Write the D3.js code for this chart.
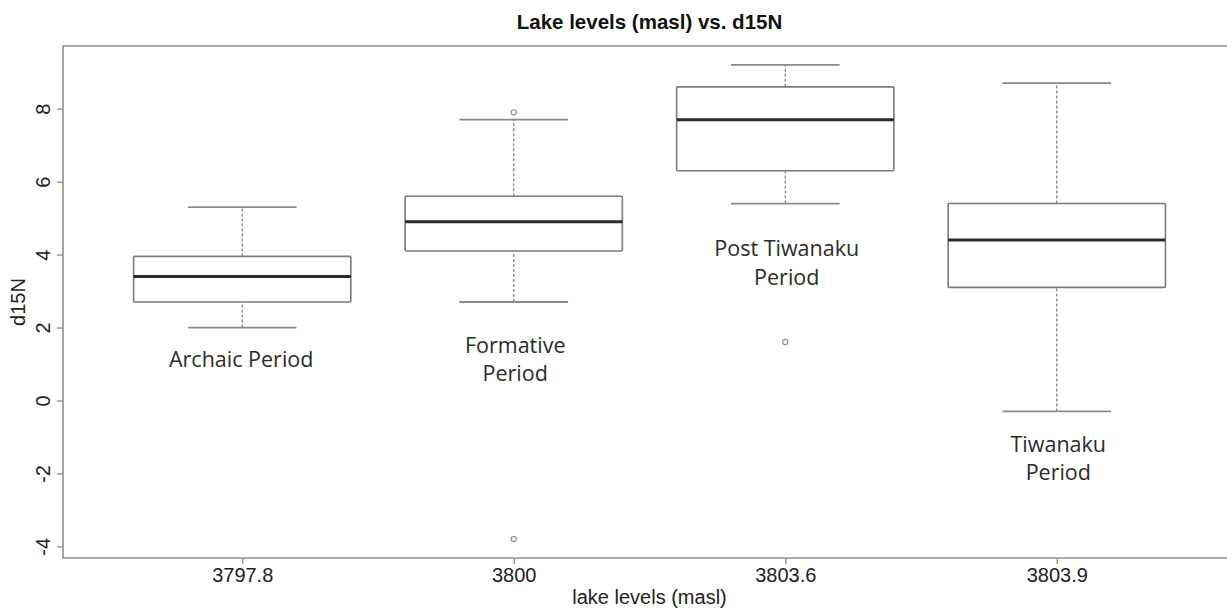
<!DOCTYPE html>
<html>
<head>
<meta charset="utf-8">
<script src="https://cdn.jsdelivr.net/npm/d3@7/dist/d3.min.js"></script>
<style>
  html, body { margin: 0; padding: 0; background: #fff; overflow: hidden; }
  svg { display: block; }
</style>
</head>
<body>
<svg id="chart" width="1227" height="612"></svg>
<script>
// Lake level groups and d15N box-plot summaries
const categories = ["3797.8", "3800", "3803.6", "3803.9"];
const whiskerLow  = [2.0, 2.7, 5.4, -0.3];
const q1          = [2.7, 4.1, 6.3, 3.1];
const median      = [3.4, 4.9, 7.7, 4.4];
const q3          = [3.95, 5.6, 8.6, 5.4];
const whiskerHigh = [5.3, 7.7, 9.2, 8.7];
const outliers    = [[], [7.9, -3.8], [1.6], []];

const yTicks = [-4, -2, 0, 2, 4, 6, 8];

// Period annotations (text lines per group)
const periodLabels = [["Archaic Period"], ["Formative", "Period"], ["Post Tiwanaku", "Period"], ["Tiwanaku", "Period"]];

const svg = d3.select("#chart");
const plot = { left: 63, right: 1236, top: 46, bottom: 558 };

// R-style 4% range extension on both axes
const allVals = whiskerLow.concat(whiskerHigh, outliers.flat());
const yMin = d3.min(allVals), yMax = d3.max(allVals);
const yPad = (yMax - yMin) * 0.04;
const y = d3.scaleLinear().domain([yMin - yPad, yMax + yPad]).range([plot.bottom, plot.top]);
const n = categories.length;
const xPad = n * 0.04;
const x = d3.scaleLinear().domain([0.5 - xPad, n + 0.5 + xPad]).range([plot.left, plot.right]);

const boxHalf = x(1.4) - x(1);
const stapleHalf = x(1.2) - x(1);

const boxes = categories.map((c, i) => ({
  c, pos: i + 1, lo: whiskerLow[i], q1: q1[i], med: median[i], q3: q3[i], hi: whiskerHigh[i], out: outliers[i], lab: periodLabels[i]
}));

const g = svg.append("g");

// Whiskers (dashed)
g.selectAll(".whisker").data(boxes.flatMap(b => [[b.pos, b.lo, b.q1], [b.pos, b.q3, b.hi]]))
  .join("line")
  .attr("x1", d => x(d[0])).attr("x2", d => x(d[0]))
  .attr("y1", d => y(d[1])).attr("y2", d => y(d[2]))
  .attr("stroke", "#6e6e6e").attr("stroke-width", 1.1).attr("stroke-dasharray", "3,2");

// Staples
g.selectAll(".staple").data(boxes.flatMap(b => [[b.pos, b.lo], [b.pos, b.hi]]))
  .join("line")
  .attr("x1", d => x(d[0]) - stapleHalf).attr("x2", d => x(d[0]) + stapleHalf)
  .attr("y1", d => y(d[1])).attr("y2", d => y(d[1]))
  .attr("stroke", "#8a8a8a").attr("stroke-width", 1.8);

// Boxes
g.selectAll(".box").data(boxes)
  .join("rect")
  .attr("x", d => x(d.pos) - boxHalf).attr("width", 2 * boxHalf)
  .attr("y", d => y(d.q3)).attr("height", d => y(d.q1) - y(d.q3))
  .attr("fill", "#fff").attr("stroke", "#7a7a7a").attr("stroke-width", 1.6).attr("rx", 1);

// Medians
g.selectAll(".median").data(boxes)
  .join("line")
  .attr("x1", d => x(d.pos) - boxHalf).attr("x2", d => x(d.pos) + boxHalf)
  .attr("y1", d => y(d.med)).attr("y2", d => y(d.med))
  .attr("stroke", "#2a2a2a").attr("stroke-width", 3);

// Outliers
g.selectAll(".outlier").data(boxes.flatMap(b => b.out.map(v => [b.pos, v])))
  .join("circle")
  .attr("cx", d => x(d[0])).attr("cy", d => y(d[1])).attr("r", 2.6)
  .attr("fill", "none").attr("stroke", "#8a8a8a").attr("stroke-width", 1.1);

// Plot frame (right edge falls outside the canvas)
svg.append("path")
  .attr("d", `M${plot.right},${plot.top}H${plot.left}V${plot.bottom}H${plot.right}`)
  .attr("fill", "none").attr("stroke", "#909090").attr("stroke-width", 1.6);

// X axis
const xAxis = d3.axisBottom(x).tickValues(d3.range(1, n + 1)).tickFormat(d => categories[d - 1]).tickSize(6).tickPadding(4);
const xg = svg.append("g").attr("transform", `translate(0,${plot.bottom})`).call(xAxis);
xg.select(".domain").remove();
xg.selectAll(".tick line").attr("stroke", "#909090").attr("stroke-width", 1.4);
xg.selectAll(".tick text").attr("font-family", "Liberation Sans, Arial, sans-serif").attr("font-size", 20).attr("fill", "#222").attr("dy", "0.71em");

// Y axis, labels parallel to the axis with plain hyphen minus
const yAxis = d3.axisLeft(y).tickValues(yTicks).tickFormat(d => String(d)).tickSize(6);
const yg = svg.append("g").attr("transform", `translate(${plot.left},0)`).call(yAxis);
yg.select(".domain").remove();
yg.selectAll(".tick line").attr("stroke", "#909090").attr("stroke-width", 1.4);
yg.selectAll(".tick text")
  .attr("font-family", "Liberation Sans, Arial, sans-serif").attr("font-size", 20).attr("fill", "#222")
  .attr("x", null).attr("dy", null).attr("y", 0)
  .attr("text-anchor", "middle")
  .attr("transform", `translate(${50 - plot.left},0) rotate(-90)`);

// Title and axis titles
svg.append("text")
  .attr("x", (plot.left + plot.right) / 2).attr("y", 29)
  .attr("text-anchor", "middle")
  .attr("font-family", "Liberation Sans, Arial, sans-serif").attr("font-weight", "bold").attr("font-size", 20.5).attr("fill", "#111")
  .text("Lake levels (masl) vs. d15N");

svg.append("text")
  .attr("x", (plot.left + plot.right) / 2).attr("y", 604)
  .attr("text-anchor", "middle")
  .attr("font-family", "Liberation Sans, Arial, sans-serif").attr("font-size", 20).attr("fill", "#222")
  .text("lake levels (masl)");

svg.append("text")
  .attr("transform", `translate(25,${(plot.top + plot.bottom) / 2}) rotate(-90)`)
  .attr("text-anchor", "middle")
  .attr("font-family", "Liberation Sans, Arial, sans-serif").attr("font-size", 20).attr("fill", "#222")
  .text("d15N");

// Period annotations, anchored in data units under/above each box
const labelAnchor = [0.93, 1.3, 3.95, -1.4];
const lineStep = 0.78;
boxes.forEach((b, i) => {
  const t = svg.append("text")
    .attr("text-anchor", "middle")
    .attr("font-family", "Open Sans, sans-serif").attr("font-size", 21.5).attr("fill", "#2b2b2b");
  b.lab.forEach((line, k) => {
    t.append("tspan").attr("x", x(b.pos) + (i === 0 ? -1 : 1.5)).attr("y", y(labelAnchor[i] - k * lineStep)).text(line);
  });
});
</script>
</body>
</html>
